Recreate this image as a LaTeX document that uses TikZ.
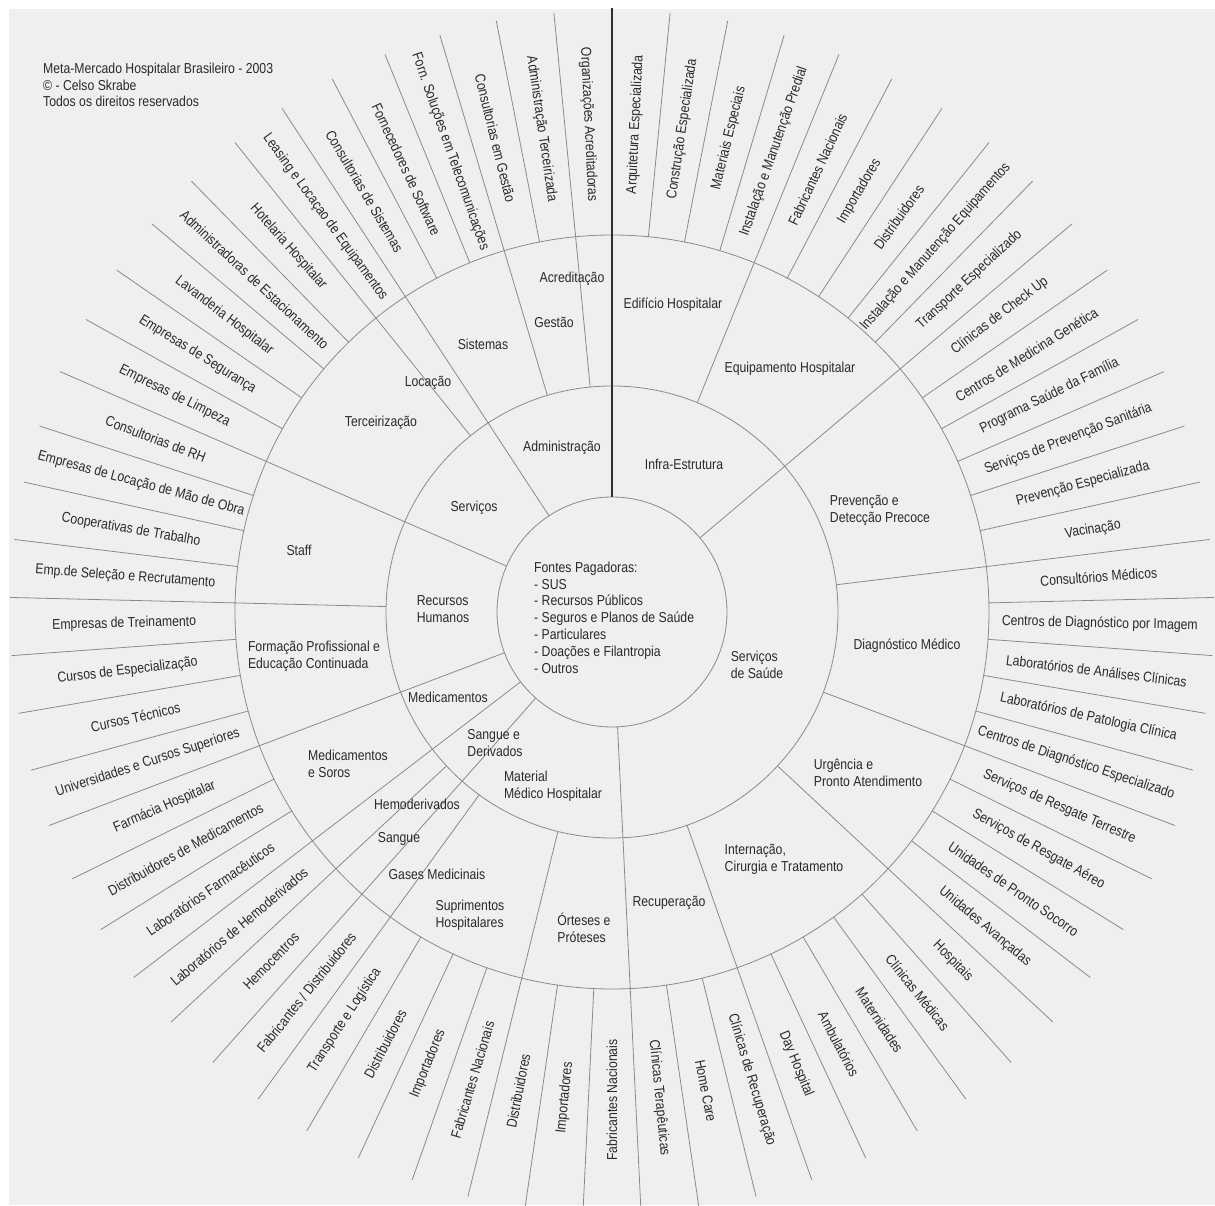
\documentclass[tikz,border=0pt]{standalone}
\usepackage{fontspec}
\setmainfont{Liberation Sans}[FakeStretch=0.85]
\definecolor{paper}{HTML}{EFEFEF}
\definecolor{rule}{HTML}{8A8A8A}
\definecolor{ink}{HTML}{2A2A2A}
\definecolor{axisdark}{HTML}{2E2E2E}
\begin{document}
\begin{tikzpicture}[x=1pt,y=1pt,
  every node/.style={text=ink, font=\fontsize{14.4}{16.8}\selectfont, inner sep=0pt},
  spoke/.style={draw=rule, line width=0.8pt},
  ring/.style={draw=rule, line width=0.8pt},
  axis/.style={draw=axisdark, line width=2.4pt},
  outlabel/.style={anchor=center},
  sector/.style={align=left, anchor=center}]
\useasboundingbox (-612,-593) rectangle (603,612);
\fill[white] (-612,-593) rectangle (603,612);
\fill[paper] (-603,-593) rectangle (603,603);

\begin{scope}
\clip (-603,-593) rectangle (603,603);
% rings
\draw[ring] (0,0) circle[radius=115pt];
\draw[ring] (0,0) circle[radius=226pt];
\draw[ring] (0,0) circle[radius=377pt];
% spokes starting at the inner circle
\foreach \k in {9,32,40,42,45,53,59}
  \draw[spoke] ({90-360/65*\k}:115pt) -- ({90-360/65*\k}:602pt);
% spokes starting at the second ring
\foreach \k in {4,15,20,24,29,35,39,41,49,58,62,64}
  \draw[spoke] ({90-360/65*\k}:226pt) -- ({90-360/65*\k}:602pt);
% spokes of the outer ring
\foreach \k in {1,2,3,5,6,7,8,10,11,12,13,14,16,17,18,19,21,22,23,25,26,27,28,30,31,33,34,36,37,38,43,44,46,47,48,50,51,52,54,55,56,57,60,61,63}
  \draw[spoke] ({90-360/65*\k}:377pt) -- ({90-360/65*\k}:602pt);
% main vertical divider
\draw[axis] (90:115pt) -- (90:604pt);
\end{scope}

% title
\node[anchor=west, align=left] (title) at (-569,527)
  {Meta-Mercado Hospitalar Brasileiro - 2003\\© - Celso Skrabe\\Todos os direitos reservados};

% hub
\node[anchor=west, align=left] (fontes) at (-78,-5.5)
  {Fontes Pagadoras:\\- SUS\\- Recursos Públicos\\- Seguros e Planos de Saúde\\- Particulares\\- Doações e Filantropia\\- Outros};

% first ring
\node[sector] (adm) at (-50,164) {Administração};
\node[sector] (infra) at (72,148) {Infra-Estrutura};
\node[sector] (serv) at (-138,104) {Serviços};
\node[sector] (rh) at (-169,3) {Recursos\\Humanos};
\node[sector] (med) at (-164,-85) {Medicamentos};
\node[sector] (sang) at (-117,-131) {Sangue e\\Derivados};
\node[sector] (mat) at (-59,-174) {Material\\Médico Hospitalar};
\node[sector] (saude) at (145,-53) {Serviços\\de Saúde};

% second ring
\node[sector] (acred) at (-40,333) {Acreditação};
\node[sector] (gest) at (-58,290) {Gestão};
\node[sector] (sist) at (-129,268) {Sistemas};
\node[sector] (loc) at (-184,229) {Locação};
\node[sector] (terc) at (-231,189) {Terceirização};
\node[sector] (staff) at (-313,62) {Staff};
\node[sector] (form) at (-298,-44) {Formação Profissional e\\Educação Continuada};
\node[sector] (soros) at (-264,-152) {Medicamentos\\e Soros};
\node[sector] (hemo) at (-195,-192) {Hemoderivados};
\node[sector] (sg) at (-213,-227) {Sangue};
\node[sector] (gases) at (-175,-262) {Gases Medicinais};
\node[sector] (supr) at (-142,-303) {Suprimentos\\Hospitalares};
\node[sector] (ortes) at (-28,-316) {Órteses e\\Próteses};
\node[sector] (recup) at (57,-291) {Recuperação};
\node[sector] (intern) at (172,-247) {Internação,\\Cirurgia e Tratamento};
\node[sector] (urg) at (256,-161) {Urgência e\\Pronto Atendimento};
\node[sector] (diag) at (295,-34) {Diagnóstico Médico};
\node[sector] (prev) at (268,102) {Prevenção e\\Detecção Precoce};
\node[sector] (equip) at (178,243) {Equipamento Hospitalar};
\node[sector] (edif) at (61,307) {Edifício Hospitalar};

% outer ring, one label per sector, read outward on the right and inward on the left
\foreach \j/\t in {
  0/{Arquitetura Especializada}, 1/{Construção Especializada}, 2/{Materiais Especiais},
  3/{Instalação e Manutenção Predial}, 4/{Fabricantes Nacionais}, 5/{Importadores},
  6/{Distribuidores}, 7/{Instalação e Manutenção Equipamentos}, 8/{Transporte Especializado},
  9/{Clínicas de Check Up}, 10/{Centros de Medicina Genética}, 11/{Programa Saúde da Família},
  12/{Serviços de Prevenção Sanitária}, 13/{Prevenção Especializada}, 14/{Vacinação},
  15/{Consultórios Médicos}, 16/{Centros de Diagnóstico por Imagem},
  17/{Laboratórios de Análises Clínicas}, 18/{Laboratórios de Patologia Clínica},
  19/{Centros de Diagnóstico Especializado}, 20/{Serviços de Resgate Terrestre},
  21/{Serviços de Resgate Aéreo}, 22/{Unidades de Pronto Socorro}, 23/{Unidades Avançadas},
  24/{Hospitais}, 25/{Clínicas Médicas}, 26/{Maternidades}, 27/{Ambulatórios},
  28/{Day Hospital}, 29/{Clínicas de Recuperação}, 30/{Home Care}, 31/{Clínicas Terapêuticas},
  32/{Fabricantes Nacionais}, 33/{Importadores}, 34/{Distribuidores},
  35/{Fabricantes Nacionais}, 36/{Importadores}, 37/{Distribuidores},
  38/{Transporte e Logística}, 39/{Fabricantes / Distribuidores}, 40/{Hemocentros},
  41/{Laboratórios de Hemoderivados}, 42/{Laboratórios Farmacêuticos},
  43/{Distribuidores de Medicamentos}, 44/{Farmácia Hospitalar},
  45/{Universidades e Cursos Superiores}, 46/{Cursos Técnicos}, 47/{Cursos de Especialização},
  48/{Empresas de Treinamento}, 49/{Emp.de Seleção e Recrutamento},
  50/{Cooperativas de Trabalho}, 51/{Empresas de Locação de Mão de Obra},
  52/{Consultorias de RH}, 53/{Empresas de Limpeza}, 54/{Empresas de Segurança},
  55/{Lavanderia Hospitalar}, 56/{Administradoras de Estacionamento},
  57/{Hotelaria Hospitalar}, 58/{Leasing e Locaçao de Equipamentos},
  59/{Consultorias de Sistemas}, 60/{Fornecedores de Software},
  61/{Forn. Soluções em Telecomunicações}, 62/{Consultorias em Gestão},
  63/{Administração Terceirizada}, 64/{Organizações Acreditadoras}} {
  \pgfmathsetmacro\mid{90-360/65*(\j+0.5)}
  \pgfmathsetmacro\rot{\j<32 ? \mid : \mid+180}
  \node[outlabel, rotate=\rot] (out\j) at (\mid:488pt) {\t};
}
\end{tikzpicture}
\end{document}
